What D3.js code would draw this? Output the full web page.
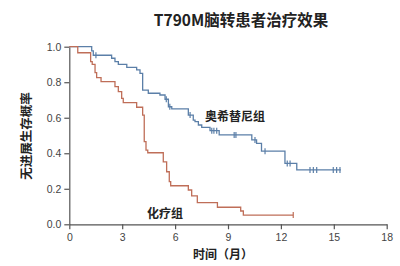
<!DOCTYPE html>
<html><head><meta charset="utf-8">
<script src="https://cdn.jsdelivr.net/npm/d3@7"></script>
<style>
html,body{margin:0;padding:0;background:#fff;}
svg{display:block;}
</style></head>
<body>
<svg id="c" width="400" height="266"></svg>
<script>
const title = "T790M脑转患者治疗效果";
const yLabel = "无进展生存概率";
const xLabel = "时间（月）";
const seriesNames = ["奥希替尼组", "化疗组"];
const xTicks = [0, 3, 6, 9, 12, 15, 18];
const yTicks = [0, 0.2, 0.4, 0.6, 0.8, 1.0];

// Osimertinib group: event times (months) and survival after each step
const osiTimes = [1.27, 1.36, 2.4, 2.59, 2.78, 3.26, 3.82, 4.01, 4.16, 4.48, 5.14, 5.43, 5.62, 5.81, 6.75, 7.03, 7.13, 7.32, 7.51, 7.98, 8.5, 10.35, 10.62, 10.9, 12.23, 12.9];
const osiSurv  = [0.977, 0.952, 0.935, 0.916, 0.90, 0.884, 0.869, 0.85, 0.756, 0.738, 0.728, 0.704, 0.662, 0.65, 0.615, 0.587, 0.578, 0.559, 0.546, 0.527, 0.503, 0.475, 0.456, 0.412, 0.343, 0.306];
const osiCensor = [1.51, 5.5, 5.7, 6.85, 8.08, 8.2, 8.36, 9.35, 9.45, 10.53, 11.1, 12.36, 12.52, 13.65, 13.84, 14.03, 14.97, 15.16, 15.35];
const osiEnd = 15.4;

// Chemotherapy group
const chemoTimes = [0.48, 1.21, 1.3, 1.46, 1.55, 1.8, 2.59, 2.78, 2.97, 3.06, 3.82, 4.16, 4.25, 4.35, 4.45, 5.33, 5.52, 5.67, 5.75, 6.75, 6.94, 7.26, 8.4, 9.72, 9.87];
const chemoSurv  = [0.966, 0.916, 0.90, 0.854, 0.826, 0.803, 0.775, 0.747, 0.709, 0.685, 0.659, 0.615, 0.465, 0.418, 0.403, 0.352, 0.296, 0.24, 0.217, 0.193, 0.16, 0.122, 0.096, 0.075, 0.052];
const chemoCensor = [12.7];
const chemoEnd = 12.7;

const colors = ["#5b7fa8", "#bf6e58"];

const svg = d3.select("#c");
const x = d3.scaleLinear().domain([0, 18]).range([69.3, 386.7]);
const y = d3.scaleLinear().domain([0, 1]).range([224.3, 46.7]);

const cjk = "'Noto Sans CJK SC','Noto Sans',sans-serif";
const num = "'Liberation Sans','DejaVu Sans',sans-serif";

// axes
const gx = svg.append("g").attr("transform", `translate(0,${y(0)})`)
  .call(d3.axisBottom(x).tickValues(xTicks).tickSize(5).tickSizeOuter(0).tickPadding(4));
const gy = svg.append("g").attr("transform", `translate(${x(0)},0)`)
  .call(d3.axisLeft(y).tickValues(yTicks).tickFormat(d3.format(".1f")).tickSize(5).tickSizeOuter(0).tickPadding(3));
[gx, gy].forEach(g => {
  g.select(".domain").attr("stroke", "#555").attr("stroke-width", 1.2);
  g.selectAll(".tick line").attr("stroke", "#555").attr("stroke-width", 1.2);
  g.selectAll(".tick text").attr("fill", "#444").style("font-family", num).style("font-size", "10.5px");
});

function kmPoints(times, surv, end) {
  const pts = [[0, 1]];
  times.forEach((t, i) => pts.push([t, surv[i]]));
  pts.push([end, surv[surv.length - 1]]);
  return pts;
}
function survAt(times, surv, t) {
  let s = 1;
  times.forEach((tt, i) => { if (tt <= t) s = surv[i]; });
  return s;
}
const line = d3.line().x(d => x(d[0])).y(d => y(d[1])).curve(d3.curveStepAfter);

const groups = [
  {times: osiTimes, surv: osiSurv, cens: osiCensor, end: osiEnd, color: colors[0]},
  {times: chemoTimes, surv: chemoSurv, cens: chemoCensor, end: chemoEnd, color: colors[1]}
];
groups.forEach(g => {
  svg.append("path").datum(kmPoints(g.times, g.surv, g.end))
    .attr("d", line).attr("fill", "none").attr("stroke", g.color).attr("stroke-width", 1.3);
  svg.selectAll(null).data(g.cens).enter().append("line")
    .attr("x1", d => x(d)).attr("x2", d => x(d))
    .attr("y1", d => y(survAt(g.times, g.surv, d)) - 3)
    .attr("y2", d => y(survAt(g.times, g.surv, d)) + 3)
    .attr("stroke", g.color).attr("stroke-width", 1.2);
});

// texts
svg.append("text").attr("x", 241).attr("y", 26).attr("text-anchor", "middle")
  .style("font-family", cjk).style("font-size", "15.5px").style("font-weight", "bold").attr("fill", "#222").text(title);
svg.append("text").attr("transform", "translate(31,136) rotate(-90)").attr("text-anchor", "middle")
  .style("font-family", cjk).style("font-size", "12.5px").style("font-weight", "bold").attr("fill", "#222").text(yLabel);
svg.append("text").attr("x", 223).attr("y", 259).attr("text-anchor", "middle")
  .style("font-family", cjk).style("font-size", "12px").style("font-weight", "bold").attr("fill", "#222").text(xLabel);
svg.append("text").attr("x", 235).attr("y", 120.5).attr("text-anchor", "middle")
  .style("font-family", cjk).style("font-size", "12px").style("font-weight", "bold").attr("fill", "#222").text(seriesNames[0]);
svg.append("text").attr("x", 165).attr("y", 217.5).attr("text-anchor", "middle")
  .style("font-family", cjk).style("font-size", "12px").style("font-weight", "bold").attr("fill", "#222").text(seriesNames[1]);
</script>
</body></html>
